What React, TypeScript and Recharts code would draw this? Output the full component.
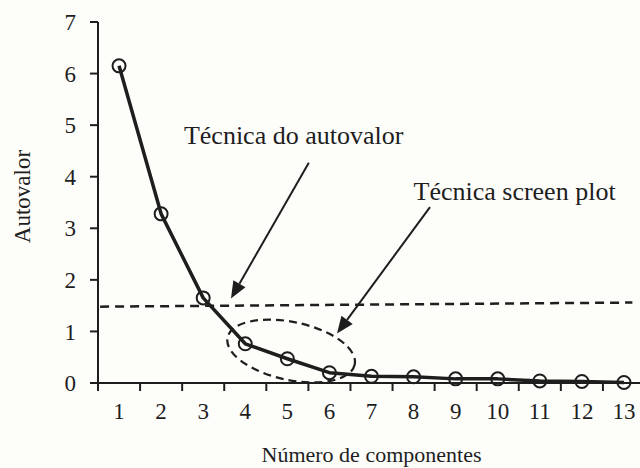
import { LineChart, Line, XAxis, YAxis, ReferenceLine, ReferenceDot } from 'recharts'

// número de componentes e autovalores
const components = [1, 2, 3, 4, 5, 6, 7, 8, 9, 10, 11, 12, 13]
const eigenvalues = [6.15, 3.28, 1.65, 0.76, 0.47, 0.2, 0.13, 0.12, 0.08, 0.08, 0.04, 0.03, 0.01]
const yTicks = [0, 1, 2, 3, 4, 5, 6, 7]

// linha tracejada do critério do autovalor (levemente inclinada no original)
const cutoffLine = [{ x: 0.55, y: 1.48 }, { x: 13.2, y: 1.56 }]
// setas das anotações: [início, ponta]
const arrowAutovalor = [{ x: 5.51, y: 4.27 }, { x: 3.66, y: 1.64 }]
const arrowScreen = [{ x: 8.39, y: 3.41 }, { x: 6.18, y: 0.96 }]
const ellipseCenter = { x: 5.09, y: 0.62 }
const labelAutovalor = { x: 5.15, y: 4.64, text: 'Técnica do autovalor' }
const labelScreen = { x: 10.4, y: 3.55, text: 'Técnica screen plot' }

const data = components.map((n, i) => ({ n, v: eigenvalues[i] }))
const xTicks = [...components.flatMap(c => [c - 0.5, c]), components[components.length - 1] + 0.5]

const FONT = '"Liberation Serif", "Times New Roman", serif'
const INK = '#1e1e1e'
const TICK_SIZE = 8
const TICK_MARGIN = 10

const XTick = (props: any) => {
  const { x, y, payload } = props
  const axisY = y - TICK_SIZE - TICK_MARGIN
  if (Number.isInteger(payload.value)) {
    return (
      <text x={x} y={axisY + 36} textAnchor="middle" fontSize={23} fontFamily={FONT} fill={INK}>
        {payload.value}
      </text>
    )
  }
  return <line x1={x} x2={x} y1={axisY} y2={axisY + TICK_SIZE} stroke={INK} strokeWidth={2} />
}

const Arrow = (props: any) => {
  const { x1, y1, x2, y2 } = props
  const a = Math.atan2(y2 - y1, x2 - x1)
  const len = 17
  const w = 7
  const bx = x2 - len * Math.cos(a)
  const by = y2 - len * Math.sin(a)
  const pts = `${x2},${y2} ${bx + w * Math.sin(a)},${by - w * Math.cos(a)} ${bx - w * Math.sin(a)},${by + w * Math.cos(a)}`
  return (
    <g>
      <line x1={x1} y1={y1} x2={bx} y2={by} stroke={INK} strokeWidth={2} />
      <polygon points={pts} fill={INK} />
    </g>
  )
}

const DashedEllipse = (props: any) => {
  const { cx, cy } = props
  return (
    <ellipse cx={cx} cy={cy} rx={65} ry={29} transform={`rotate(12 ${cx} ${cy})`}
      fill="none" stroke={INK} strokeWidth={2.2} strokeDasharray="8 5" />
  )
}

const annotation = (text: string) => (props: any) => (
  <text x={props.cx} y={props.cy} textAnchor="middle" fontSize={26} fontFamily={FONT} fill={INK}>
    {text}
  </text>
)

const OpenDot = (props: any) => {
  const { cx, cy } = props
  return <circle cx={cx} cy={cy} r={6.5} fill="none" stroke={INK} strokeWidth={2} />
}

const YTitle = (props: any) => {
  const { viewBox } = props
  const cx = viewBox.x + 22
  const cy = viewBox.y + viewBox.height / 2 - 6
  return (
    <text x={cx} y={cy} transform={`rotate(-90 ${cx} ${cy})`} textAnchor="middle" dominantBaseline="central"
      fontSize={23} fontFamily={FONT} fill={INK}>
      Autovalor
    </text>
  )
}

export default function App() {
  return (
    <div style={{ position: 'absolute', left: 0, top: 0, width: 640, height: 468, overflow: 'hidden', background: '#fdfdfa' }}>
      <LineChart width={660} height={468} data={data} margin={{ top: 22, right: 15, bottom: 0, left: 0 }}>
        <XAxis
          dataKey="n"
          type="number"
          domain={[0.5, 13.5]}
          ticks={xTicks}
          interval={0}
          height={85}
          tickLine={false}
          tickSize={TICK_SIZE}
          tickMargin={TICK_MARGIN}
          tick={<XTick />}
          axisLine={{ stroke: INK, strokeWidth: 2 }}
          label={{ value: 'Número de componentes', position: 'insideBottom', offset: 6, fontSize: 22, fontFamily: FONT, fill: INK }}
        />
        <YAxis
          type="number"
          domain={[0, 7]}
          ticks={yTicks}
          width={98}
          tickSize={TICK_SIZE}
          tickMargin={14}
          tick={{ fontSize: 23, fontFamily: FONT, fill: INK }}
          tickLine={{ stroke: INK, strokeWidth: 2 }}
          axisLine={{ stroke: INK, strokeWidth: 2 }}
          label={<YTitle />}
        />
        <ReferenceLine segment={cutoffLine} stroke={INK} strokeWidth={2.5} strokeDasharray="9 6" />
        <ReferenceDot x={ellipseCenter.x} y={ellipseCenter.y} shape={<DashedEllipse />} />
        <Line
          type="linear"
          dataKey="v"
          stroke={INK}
          strokeWidth={3.5}
          strokeLinejoin="round"
          dot={<OpenDot />}
          isAnimationActive={false}
        />
        <ReferenceLine segment={arrowAutovalor} shape={<Arrow />} />
        <ReferenceLine segment={arrowScreen} shape={<Arrow />} />
        <ReferenceDot x={labelAutovalor.x} y={labelAutovalor.y} shape={annotation(labelAutovalor.text)} />
        <ReferenceDot x={labelScreen.x} y={labelScreen.y} shape={annotation(labelScreen.text)} />
      </LineChart>
    </div>
  )
}
